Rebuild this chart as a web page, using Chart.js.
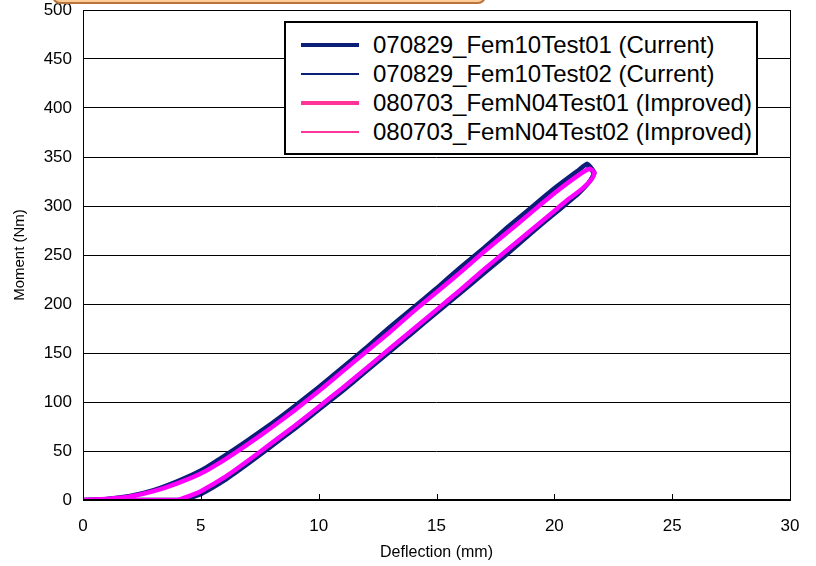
<!DOCTYPE html>
<html>
<head>
<meta charset="utf-8">
<script src="https://cdn.jsdelivr.net/npm/chart.js@4/dist/chart.umd.min.js"></script>
<style>
    body { margin: 0; background: #fff; font-family: "Liberation Sans", Arial, sans-serif; }
    #wrap { position: relative; width: 816px; height: 566px; overflow: hidden; }
    #titleBox {
        position: absolute; left: 52px; top: -22px; width: 430px; height: 22px;
        background: #ffcc99; border: 2px solid #b8743a; border-radius: 8px;
    }
    #legend {
        position: absolute; left: 284px; top: 21px; width: 474px; height: 134px;
        background: #fff; border: 2px solid #000; box-sizing: border-box;
        padding-top: 7px;
    }
    .row { height: 29px; display: flex; align-items: center; font-size: 24px; color: #000; }
    .swatch { margin-left: 15px; width: 58px; margin-right: 14px; }
</style>
</head>
<body>
<div id="wrap">
    <canvas id="momentChart" width="816" height="566"></canvas>
    <div id="titleBox"></div>
    <div id="legend"></div>
</div>
<script>
// series names
const seriesNames = [
    '070829_Fem10Test01 (Current)',
    '070829_Fem10Test02 (Current)',
    '080703_FemN04Test01 (Improved)',
    '080703_FemN04Test02 (Improved)'
];

// 070829_Fem10Test01 (Current)
const cur01Defl = [0, 1, 2, 3, 4, 5, 6, 7, 8, 9, 10, 11, 12, 13, 14, 15, 16, 17, 18, 19, 20, 21, 21.4,
    21.7, 21.5, 21, 20.5, 20, 19, 18, 17, 16, 15, 14, 13, 12, 11, 10, 9, 8, 7, 6, 5, 4.5, 4.2, 3, 2, 1, 0];
const cur01Moment = [0, 1, 4, 10, 19, 30, 45, 61, 78, 96, 115, 135, 155, 176, 196, 216, 237, 257, 278, 298, 318, 336, 343,
    334, 325, 312, 302, 292, 272, 251, 231, 211, 191, 171, 151, 131, 111, 92, 73, 55, 37, 20, 6, 2, 0, 0, 0, 0, 0];

// 070829_Fem10Test02 (Current)
const cur02Defl = [0, 1, 2, 3, 4, 5, 6, 7, 8, 9, 10, 11, 12, 13, 14, 15, 16, 17, 18, 19, 20, 21, 21.3,
    21.6, 21.4, 21, 20.5, 20, 19, 18, 17, 16, 15, 14, 13, 12, 11, 10, 9, 8, 7, 6, 5, 4.5, 4.1, 3, 2, 1, 0];
const cur02Moment = [0, 1, 4, 10, 18, 29, 44, 60, 77, 95, 114, 134, 154, 175, 195, 215, 236, 256, 277, 297, 317, 335, 341,
    333, 324, 312, 302, 293, 273, 252, 232, 212, 192, 172, 152, 132, 112, 93, 74, 56, 38, 21, 7, 3, 0, 0, 0, 0, 0];

// 080703_FemN04Test01 (Improved)
const imp01Defl = [0, 1, 2, 3, 4, 5, 6, 7, 8, 9, 10, 11, 12, 13, 14, 15, 16, 17, 18, 19, 20, 21, 21.5,
    21.7, 21.6, 21.2, 20.5, 20, 19, 18, 17, 16, 15, 14, 13, 12, 11, 10, 9, 8, 7, 6, 5, 4.5, 4, 3, 2, 1, 0];
const imp01Moment = [0, 1, 3.5, 9, 17, 27, 41, 57, 74, 92, 111, 131, 151, 171, 192, 212, 232, 253, 273, 293, 313, 331, 338,
    334, 328, 318, 305, 295, 275, 255, 235, 214, 194, 174, 154, 134, 114, 95, 76, 58, 40, 23, 9, 4, 0, 0, 0, 0, 0];

// 080703_FemN04Test02 (Improved)
const imp02Defl = [0, 1, 2, 3, 4, 5, 6, 7, 8, 9, 10, 11, 12, 13, 14, 15, 16, 17, 18, 19, 20, 21, 21.5,
    21.7, 21.6, 21.2, 20.5, 20, 19, 18, 17, 16, 15, 14, 13, 12, 11, 10, 9, 8, 7, 6, 5, 4.5, 4, 3, 2, 1, 0];
const imp02Moment = [0, 1, 3.5, 9, 17, 28, 42, 58, 75, 93, 112, 132, 152, 172, 193, 213, 233, 254, 274, 294, 314, 332, 338,
    334, 327, 317, 305, 295, 275, 254, 234, 214, 194, 174, 154, 133, 113, 94, 75, 57, 39, 22, 8, 3, 0, 0, 0, 0, 0];

// axis ticks
const xTicks = [0, 5, 10, 15, 20, 25, 30];
const yTicks = [0, 50, 100, 150, 200, 250, 300, 350, 400, 450, 500];

const navy = '#0b1f78';
const magenta = '#ff00ff';
const legendColors = [navy, navy, '#ff3399', '#ff3399'];
const legendWidths = [4, 2, 4, 2];

const toPoints = (xs, ys) => xs.map((x, i) => ({ x: x, y: ys[i] }));

// legend built as html so it can sit inside the plot area
const legendEl = document.getElementById('legend');
seriesNames.forEach((name, i) => {
    const row = document.createElement('div');
    row.className = 'row';
    const sw = document.createElement('div');
    sw.className = 'swatch';
    sw.style.height = legendWidths[i] + 'px';
    sw.style.background = legendColors[i];
    const label = document.createElement('span');
    label.textContent = name;
    row.appendChild(sw);
    row.appendChild(label);
    legendEl.appendChild(row);
});

// frame round the plot area plus inward tick marks on the x axis
const framePlugin = {
    id: 'frame',
    afterDatasetsDraw(chart) {
        const { ctx, chartArea: a, scales } = chart;
        ctx.save();
        ctx.strokeStyle = '#000';
        ctx.lineWidth = 1;
        ctx.strokeRect(a.left + 0.5, a.top + 0.5, a.right - a.left, a.bottom - a.top);
        ctx.lineWidth = 2;
        ctx.beginPath();
        ctx.moveTo(a.left, a.bottom);
        ctx.lineTo(a.right + 1, a.bottom);
        ctx.stroke();
        ctx.lineWidth = 1;
        ctx.beginPath();
        xTicks.forEach(v => {
            const px = Math.round(scales.x.getPixelForValue(v)) + 0.5;
            ctx.moveTo(px, a.bottom);
            ctx.lineTo(px, a.bottom - 6);
        });
        ctx.stroke();
        ctx.restore();
    }
};

const ctx = document.getElementById('momentChart').getContext('2d');
new Chart(ctx, {
    type: 'scatter',
    data: {
        datasets: [{
            label: seriesNames[3],
            data: toPoints(imp02Defl, imp02Moment),
            borderColor: magenta,
            borderWidth: 1.5,
            order: 0
        }, {
            label: seriesNames[2],
            data: toPoints(imp01Defl, imp01Moment),
            borderColor: magenta,
            borderWidth: 4.5,
            order: 1
        }, {
            label: seriesNames[1],
            data: toPoints(cur02Defl, cur02Moment),
            borderColor: navy,
            borderWidth: 1.5,
            order: 2
        }, {
            label: seriesNames[0],
            data: toPoints(cur01Defl, cur01Moment),
            borderColor: navy,
            borderWidth: 4.5,
            order: 3
        }]
    },
    options: {
        responsive: false,
        animation: false,
        showLine: true,
        elements: {
            point: { radius: 0 },
            line: { tension: 0.15, fill: false }
        },
        layout: {
            padding: { left: 0, right: 26, top: 10, bottom: 0 }
        },
        plugins: {
            legend: { display: false },
            tooltip: { enabled: false }
        },
        scales: {
            x: {
                type: 'linear',
                min: 0,
                max: 30,
                afterBuildTicks: scale => { scale.ticks = xTicks.map(v => ({ value: v })); },
                afterFit: scale => {
                    scale.height = 66;
                    scale.paddingLeft = 0;
                    scale.paddingRight = 0;
                },
                grid: { display: false },
                border: { display: false },
                ticks: {
                    color: '#000',
                    padding: 8,
                    font: { family: 'Liberation Sans', size: 17 }
                },
                title: {
                    display: true,
                    text: 'Deflection (mm)',
                    color: '#000',
                    padding: { top: 8 },
                    font: { family: 'Liberation Sans', size: 16 }
                }
            },
            y: {
                min: 0,
                max: 500,
                afterBuildTicks: scale => { scale.ticks = yTicks.map(v => ({ value: v })); },
                afterFit: scale => {
                    scale.width = 83;
                    scale.paddingTop = 0;
                    scale.paddingBottom = 0;
                },
                grid: {
                    color: '#000',
                    lineWidth: 1,
                    drawTicks: false
                },
                border: { display: false },
                ticks: {
                    color: '#000',
                    padding: 11,
                    font: { family: 'Liberation Sans', size: 17 }
                },
                title: {
                    display: true,
                    text: 'Moment (Nm)',
                    color: '#000',
                    padding: { top: 11, bottom: 0 },
                    font: { family: 'Liberation Sans', size: 15 }
                }
            }
        }
    },
    plugins: [framePlugin]
});
</script>
</body>
</html>
